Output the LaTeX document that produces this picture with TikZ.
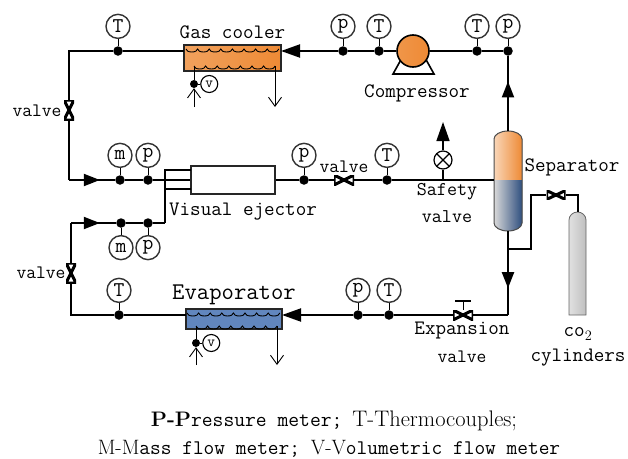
\documentclass[tikz,border=0pt]{standalone}
\usetikzlibrary{positioning,arrows.meta,decorations.markings}
\definecolor{coolorange}{HTML}{EE8A35}
\definecolor{evapblue}{HTML}{6186BE}
\definecolor{sepblue}{HTML}{2F4F7F}
\begin{document}
\begin{tikzpicture}[
  x=1pt,y=-1pt,
  pipe/.style={line width=2pt,line join=miter},
  thinpipe/.style={line width=1.4pt},
  stem/.style={line width=0.8pt},
  tiphead/.style={-{Triangle[length=19pt,width=13pt]}},
  flowmark/.style={postaction={decorate},decoration={markings,mark=at position #1 with {\arrow{Triangle[length=16pt,width=12pt]}}}},
  dot/.style={circle,fill=black,inner sep=0pt,minimum size=9.5pt},
  gauge/.style={circle,draw=black!80,line width=1.4pt,fill=white,inner sep=0pt,minimum size=24pt,font=\fontsize{21}{21}\ttfamily},
  vgauge/.style={circle,draw=black,line width=1.1pt,fill=white,inner sep=0pt,minimum size=17pt,font=\fontsize{15}{15}\ttfamily},
  valveh/.style={inner sep=0pt,minimum width=20pt,minimum height=10pt,fill=white,
    path picture={\draw[line width=3pt] (path picture bounding box.north west) -- (path picture bounding box.south east) -- (path picture bounding box.north east) -- (path picture bounding box.south west) -- cycle;}},
  valvev/.style={inner sep=0pt,minimum width=10pt,minimum height=20pt,fill=white,
    path picture={\draw[line width=3pt] (path picture bounding box.north west) -- (path picture bounding box.south east) -- (path picture bounding box.south west) -- (path picture bounding box.north east) -- cycle;}},
  exchanger/.style={draw=black!85,line width=1.1pt,inner sep=0pt},
  coil/.style={line width=0.9pt},
  openhead/.style={-{Straight Barb[length=9pt,width=13pt,line width=0.9pt]}},
  lbl/.style={font=\fontsize{20.5}{22}\ttfamily,inner sep=0pt},
]
\useasboundingbox (0,0) rectangle (628,458);

% top line
\node[dot] (dTa) at (118,51) {};
\node[gauge,above=7pt of dTa] (gTa) {T} edge[stem] (dTa);
\node[dot] (dPa) at (343,51) {};
\node[gauge,above=7pt of dPa] (gPa) {p} edge[stem] (dPa);
\node[dot] (dTb) at (379,51) {};
\node[gauge,above=7pt of dTb] (gTb) {T} edge[stem] (dTb);
\node[dot] (dTc) at (477,51) {};
\node[gauge,above=7pt of dTc] (gTc) {T} edge[stem] (dTc);
\node[dot] (dPb) at (508,51) {};
\node[gauge,above=7pt of dPb] (gPb) {p} edge[stem] (dPb);

% middle line
\node[dot] (dMa) at (120,180) {};
\node[gauge,above=7pt of dMa] (gMa) {m} edge[stem] (dMa);
\node[dot] (dPc) at (148,180) {};
\node[gauge,above=7pt of dPc] (gPc) {p} edge[stem] (dPc);
\node[dot] (dPd) at (304,180) {};
\node[gauge,above=7pt of dPd] (gPd) {p} edge[stem] (dPd);
\node[dot] (dTd) at (387,180) {};
\node[gauge,above=7pt of dTd] (gTd) {T} edge[stem] (dTd);

% suction line
\node[dot] (dMb) at (121,223) {};
\node[gauge,below=7pt of dMb] (gMb) {m} edge[stem] (dMb);
\node[dot] (dPe) at (148,223) {};
\node[gauge,below=7pt of dPe] (gPe) {p} edge[stem] (dPe);

% bottom line
\node[dot] (dTe) at (119,315) {};
\node[gauge,above=7pt of dTe] (gTe) {T} edge[stem] (dTe);
\node[dot] (dPf) at (358,315) {};
\node[gauge,above=7pt of dPf] (gPf) {p} edge[stem] (dPf);
\node[dot] (dTf) at (389,315) {};
\node[gauge,above=7pt of dTf] (gTf) {T} edge[stem] (dTf);

% gas cooler
\node[exchanger,left color=coolorange!80!white,right color=coolorange,minimum width=97pt,minimum height=26pt] (cooler) at (232.5,58) {};
\node[lbl,above=6pt of cooler] (lcooler) {Gas cooler};
\draw[coil] (186,49) foreach \k in {1,...,8} {arc[start angle=180,end angle=0,x radius=5.8,y radius=3]};
\draw[coil] (194,66) foreach \k in {1,...,7} {arc[start angle=180,end angle=0,x radius=5.8,y radius=3]};
\node[dot,minimum size=8pt] (dVa) at (194,84) {};
\node[vgauge,right=2pt of dVa] (gVa) {v} edge[stem] (dVa);
\coordinate (cVaIn) at (194,66);
\coordinate (cVaEnd) at (194,107);
\coordinate (cVaOut) at (275,66);
\coordinate (cVaTip) at (275,107);
\draw[coil] (cVaIn) -- (dVa);
\draw[coil,openhead] (cVaEnd) -- (dVa);
\draw[coil,openhead] (cVaOut) -- (cVaTip);

% evaporator
\node[exchanger,fill=evapblue,minimum width=96pt,minimum height=20pt] (evap) at (234,319) {};
\node[lbl,font=\fontsize{24}{26}\ttfamily,above=3pt of evap] (levap) {Evaporator};
\draw[coil] (187,313) foreach \k in {1,...,8} {arc[start angle=180,end angle=0,x radius=5.8,y radius=3]};
\draw[coil] (196,326) foreach \k in {1,...,7} {arc[start angle=180,end angle=0,x radius=5.8,y radius=3]};
\node[dot,minimum size=8pt] (dVb) at (196,343) {};
\node[vgauge,right=2pt of dVb] (gVb) {v} edge[stem] (dVb);
\coordinate (cVbIn) at (196,326);
\coordinate (cVbEnd) at (196,365);
\coordinate (cVbOut) at (277,326);
\coordinate (cVbTip) at (277,365);
\draw[coil] (cVbIn) -- (dVb);
\draw[coil,openhead] (cVbEnd) -- (dVb);
\draw[coil,openhead] (cVbOut) -- (cVbTip);

% compressor
\coordinate (cCompL) at (393,74);
\coordinate (cCompR) at (434,74);
\coordinate (cCompA) at (403,56);
\coordinate (cCompB) at (424,56);
\draw[line width=1.6pt,line join=miter] (cCompA) -- (cCompL) -- (cCompR) -- (cCompB);
\node[circle,draw=black,line width=1.6pt,left color=coolorange!90!white,right color=coolorange,inner sep=0pt,minimum size=32pt] (comp) at (413,51) {};
\node[lbl,anchor=center] (lcomp) at (417,93) {Compressor};

% separator
\fill[left color=coolorange!35!white,right color=coolorange] (494,180) -- (494,139) arc[start angle=180,end angle=360,x radius=14,y radius=8] -- (522,180) -- cycle;
\fill[left color=black!15,right color=sepblue] (494,180) -- (494,223) arc[start angle=180,end angle=0,x radius=14,y radius=8] -- (522,180) -- cycle;
\draw[line width=1pt,black!70] (494,180) -- (494,139) arc[start angle=180,end angle=360,x radius=14,y radius=8] -- (522,223) arc[start angle=0,end angle=180,x radius=14,y radius=8] -- cycle;
\node[inner sep=0pt,minimum width=28pt,minimum height=100pt] (sep) at (508,181) {};
\node[lbl,anchor=center] (lsep) at (572,167) {Separator};

% ejector
\node[draw=black!85,line width=1.1pt,fill=white,minimum width=84pt,minimum height=28pt,inner sep=0pt] (ejector) at (233,180) {};
\node[lbl,anchor=center] (lejector) at (243,212) {Visual ejector};
\coordinate (cNozA) at (165,170);
\coordinate (cNozB) at (165,189);
\coordinate (cNozC) at (165,223);
\coordinate (cEjA) at (191,170);
\coordinate (cEjB) at (191,189);
\draw[pipe] (cEjA) -- (cNozA) -- (cNozC);
\draw[pipe] (cEjB) -- (cNozB);

% valves
\node[valvev] (vLa) at (69,110) {};
\node[lbl,font=\fontsize{19}{20}\ttfamily,anchor=center] (lvLa) at (37,111) {valve};
\node[valvev] (vLb) at (71,273) {};
\node[lbl,font=\fontsize{19}{20}\ttfamily,anchor=center] (lvLb) at (41,273) {valve};
\node[valveh] (vMid) at (344,180) {};
\node[lbl,font=\fontsize{19}{20}\ttfamily,anchor=center] (lvMid) at (344,167) {valve};
\node[valveh] (vExp) at (463,315) {};
\coordinate (cExpTop) at (463,301);
\coordinate (cExpL) at (455,301);
\coordinate (cExpR) at (471,301);
\draw[stem] (vExp) -- (cExpTop);
\draw[thinpipe] (cExpL) -- (cExpR);
\node[lbl,anchor=center] (lexpa) at (462,331) {Expansion};
\node[lbl,font=\fontsize{19}{20}\ttfamily,anchor=center] (lexpb) at (462,357) {valve};
\node[valveh,minimum width=19pt,minimum height=9pt] (vCyl) at (556,195) {};

% safety valve
\coordinate (cSafe) at (443,180);
\coordinate (cSafeTip) at (443,122);
\node[circle,draw=black,line width=1.2pt,fill=white,inner sep=0pt,minimum size=18pt,
  path picture={\draw[line width=1.1pt] (path picture bounding box.north west) -- (path picture bounding box.south east) (path picture bounding box.north east) -- (path picture bounding box.south west);}] (safe) at (443,160) {};
\draw[thinpipe] (cSafe) -- (safe);
\draw[thinpipe,tiphead] (safe) -- (cSafeTip);
\node[lbl,font=\fontsize{19.5}{20}\ttfamily,anchor=center] (lsafea) at (447,192) {Safety};
\node[lbl,font=\fontsize{19.5}{20}\ttfamily,anchor=center] (lsafeb) at (447,217) {valve};

% cylinder
\draw[draw=black!60,line width=0.8pt,left color=black!12,right color=black!25] (569,315) -- (569,220) arc[start angle=180,end angle=360,x radius=8.5,y radius=8] -- (586,315) -- cycle;
\coordinate (cCylTop) at (578,212);
\node[lbl,anchor=center] (lco) at (578,334) {co$_2$};
\node[lbl,anchor=center] (lcyl) at (578,358) {cylinders};

% pipes
\coordinate (cTL) at (69,51);
\coordinate (cML) at (69,180);
\coordinate (cSL) at (71,223);
\coordinate (cBL) at (71,315);
\coordinate (cBR) at (508,315);
\coordinate (cBranch) at (508,249);
\coordinate (cCa) at (531,249);
\coordinate (cCb) at (531,195);
\coordinate (cCc) at (578,195);
\coordinate (cCoolW) at (184,51);
\coordinate (cCoolE) at (281,51);
\coordinate (cEvapW) at (186,315);
\coordinate (cEvapE) at (282,315);
\draw[pipe] (cCoolW) -- (dTa) -- (cTL) -- (vLa);
\draw[pipe] (vLa) -- (cML);
\draw[pipe,flowmark=0.67] (cML) -- (dMa);
\draw[pipe] (dMa) -- (dPc) -- (ejector);
\draw[pipe] (ejector) -- (dPd) -- (vMid) -- (dTd) -- (cSafe) -- (sep.west |- cSafe);
\draw[pipe] (dTb) -- (comp);
\draw[pipe] (comp) -- (dTc) -- (dPb);
\draw[pipe,tiphead] (dPa) -- (cCoolE);
\draw[pipe] (dTb) -- (dPa);
\draw[pipe,flowmark=0.66] (sep.north) -- (dPb);
\draw[pipe] (vLb) -- (cSL);
\draw[pipe,flowmark=0.64] (cSL) -- (dMb);
\draw[pipe] (dMb) -- (dPe) -- (cNozC);
\draw[pipe] (vLb) -- (cBL) -- (dTe) -- (cEvapW);
\draw[pipe,tiphead] (dPf) -- (cEvapE);
\draw[pipe] (dPf) -- (dTf) -- (vExp) -- (cBR);
\draw[pipe,flowmark=0.68] (sep.south) -- (cBR);
\draw[thinpipe] (cBranch) -- (cCa) -- (cCb) -- (vCyl) -- (cCc) -- (cCylTop);

% caption
\node[font=\fontsize{21}{22}\ttfamily,inner sep=0pt] (capa) at (334,421) {{\rmfamily\bfseries P-P}ressure meter;\hspace{10pt}{\fontsize{22.5}{22}\rmfamily T-Thermocouples;}};
\node[font=\fontsize{20.8}{22}\ttfamily,inner sep=0pt] (capb) at (329,449) {{\rmfamily M-M}ass flow meter;\ {\rmfamily V-V}olumetric flow meter};
\end{tikzpicture}
\end{document}
